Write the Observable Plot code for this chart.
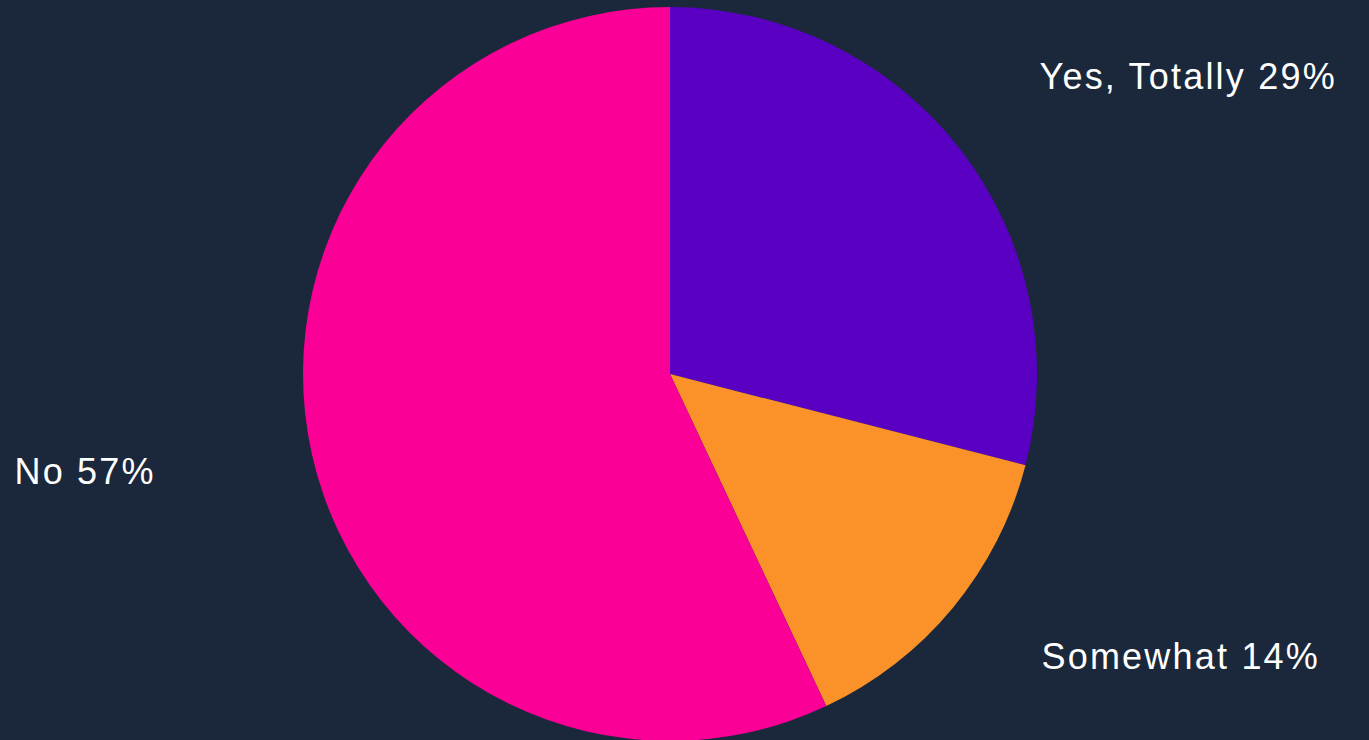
<!DOCTYPE html>
<html>
<head>
<meta charset="utf-8">
<script src="https://cdn.jsdelivr.net/npm/d3@7"></script>
<script src="https://cdn.jsdelivr.net/npm/@observablehq/plot@0.6"></script>
<style>
  html, body { margin: 0; padding: 0; background: #1b283b; overflow: hidden; }
  #chart svg { display: block; }
</style>
</head>
<body>
<div id="chart"></div>
<script>
// Data
const categories = ["Yes, Totally", "Somewhat", "No"];
const shares = [29, 14, 57];
const colors = ["#5a00c3", "#fb9229", "#fa0097"];

// Layout (not data)
const W = 1369, H = 740;
const center = [670, 374];
const radius = 367;
const labelAnchors = [[1039, 88], [1041, 668], [14, 483]];

const data = categories.map((c, i) => ({category: c, value: shares[i], label: `${c} ${shares[i]}%`, lx: labelAnchors[i][0], ly: labelAnchors[i][1]}));

const arcs = d3.pie().sort(null).value(d => d.value)(data);
const arcGen = d3.arc().innerRadius(0).outerRadius(radius);

function pieMark(index, scales, values, dimensions, context) {
  const g = d3.create("svg:g").attr("transform", `translate(${scales.x(center[0])},${scales.y(center[1])})`);
  g.selectAll("path").data(arcs).join("path")
    .attr("d", arcGen)
    .attr("fill", d => scales.color(d.data.category));
  return g.node();
}

const chart = Plot.plot({
  width: W, height: H,
  margin: 0,
  style: {background: "#1b283b", color: "#ffffff"},
  x: {domain: [0, W], range: [0, W], axis: null},
  y: {domain: [0, H], range: [0, H], axis: null},
  color: {domain: categories, range: colors},
  marks: [
    pieMark,
    Plot.text(data, {
      x: "lx", y: "ly", text: "label",
      textAnchor: "start", lineAnchor: "bottom",
      fill: "#ffffff", fontSize: 36,
      fontFamily: "Liberation Sans, Arial, sans-serif"
    })
  ]
});
document.getElementById("chart").append(chart);
chart.querySelectorAll("text").forEach(t => t.style.letterSpacing = "2.2px");
</script>
</body>
</html>
